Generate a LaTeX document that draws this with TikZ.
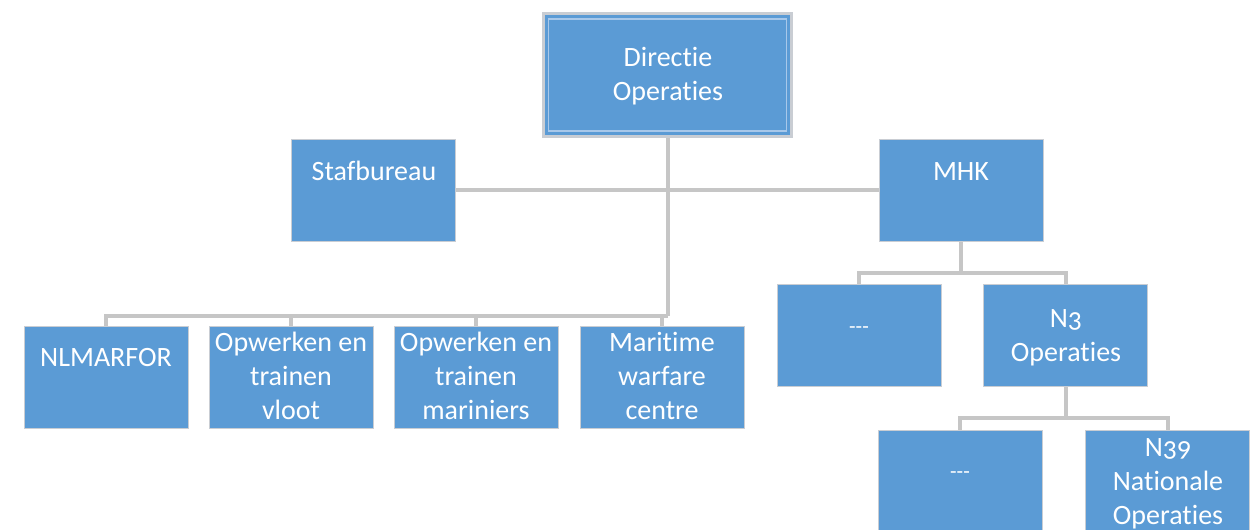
\documentclass[tikz,border=0pt]{standalone}
\usepackage{fontspec}
\setmainfont[Ligatures={NoCommon},Numbers=OldStyle]{Carlito}
\usetikzlibrary{backgrounds}
\definecolor{boxblue}{HTML}{5B9BD5}
\definecolor{conngray}{HTML}{C6C6C6}
\definecolor{edgegray}{HTML}{C9CDD3}
\definecolor{innerline}{HTML}{A8C8EA}
\begin{document}
\begin{tikzpicture}[x=0.75pt,y=-0.75pt,
  box/.style={draw=edgegray, line width=0.6pt, fill=boxblue, minimum width=123pt, minimum height=76.5pt, inner sep=0pt},
  lbl/.style={text=white, font=\fontsize{21}{25.5}\selectfont, align=center, anchor=base, inner sep=0pt},
  conn/.style={draw=conngray, line width=3pt}]
\useasboundingbox (0,0) rectangle (1259,530);
% top box
\node[draw=edgegray, line width=2pt, fill=boxblue, minimum width=186pt, minimum height=92pt, inner sep=0pt] (dir) at (667.5,75) {};
\node[draw=innerline, line width=0.8pt, minimum width=178pt, minimum height=84pt, inner sep=0pt] (dirin) at (667.5,75) {};
\node[lbl] (dirt) at (668,101) {Directie\\Operaties};
% second row
\node[box] (staf) at (373.5,190) {};
\node[lbl] (staft) at (374,181) {Stafbureau};
\node[box] (mhk) at (961,190) {};
\node[lbl] (mhkt) at (961,181) {MHK};
% bottom-left row
\node[box] (nlm) at (106,377) {};
\node[lbl] (nlmt) at (106,367) {NLMARFOR};
\node[box] (vloot) at (291,377) {};
\node[lbl] (vloott) at (291,420) {Opwerken en\\trainen\\vloot};
\node[box] (mar) at (476,377) {};
\node[lbl] (mart) at (476,420) {Opwerken en\\trainen\\mariniers};
\node[box] (mwc) at (662,377) {};
\node[lbl] (mwct) at (662,420) {Maritime\\warfare\\centre};
% MHK children
\node[box] (dotsA) at (859,335.5) {};
\node[lbl, font=\fontsize{16}{20}\selectfont] (dotsAt) at (859,334) {-{}-{}-};
\node[box] (n3) at (1065.5,335.5) {};
\node[lbl] (n3t) at (1066,362) {N3\\Operaties};
% N3 children
\node[box] (dotsB) at (960,481) {};
\node[lbl, font=\fontsize{16}{20}\selectfont] (dotsBt) at (960,478) {-{}-{}-};
\node[box] (n39) at (1167.5,481) {};
\node[lbl] (n39t) at (1168,524) {N39\\Nationale\\Operaties};
% connectors
\coordinate (bus1) at (dir.south |- 0,316);
\coordinate (bus2) at (mhk.south |- 0,273);
\coordinate (bus3) at (n3.south |- 0,418);
\begin{scope}[on background layer]
\draw[conn] (dir.south) -- (bus1);
\draw[conn] (nlm.north) |- (bus1);
\draw[conn] (vloot.north) |- (bus1);
\draw[conn] (mar.north) |- (bus1);
\draw[conn] (mwc.north) |- (bus1);
\draw[conn] (staf.east) -- (mhk.west);
\draw[conn] (mhk.south) -- (bus2);
\draw[conn] (dotsA.north) |- (bus2);
\draw[conn] (n3.north) |- (bus2);
\draw[conn] (n3.south) -- (bus3);
\draw[conn] (dotsB.north) |- (bus3);
\draw[conn] (n39.north) |- (bus3);
\end{scope}
\end{tikzpicture}
\end{document}
